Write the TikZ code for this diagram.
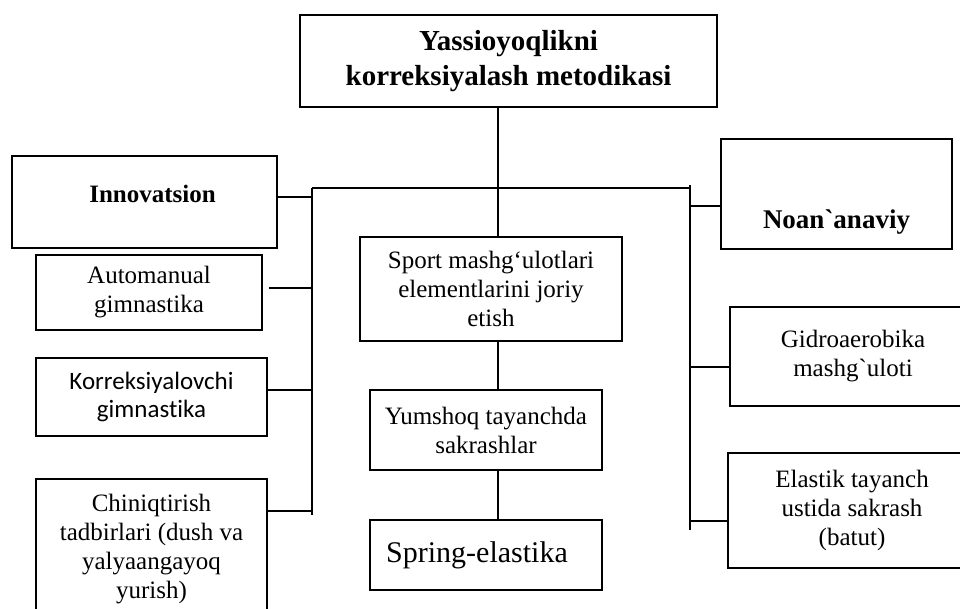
\documentclass[tikz,border=0pt]{standalone}
\usepackage{fontspec}
\setmainfont{Liberation Serif}[Ligatures=TeXOff]
\newfontfamily\calibrifont{Carlito}[Ligatures={TeXOff,NoCommon}]
\usetikzlibrary{calc}

\begin{document}
\begin{tikzpicture}[
    x=1pt, y=-1pt,
    box/.style={draw, line width=2pt, inner sep=0pt, align=center,
                font=\fontsize{25}{29}\selectfont},
    head/.style={box, font=\fontsize{25}{30}\selectfont\bfseries},
    link/.style={line width=2pt}
]
\useasboundingbox (0,0) rectangle (960,608);

% Top box
\node[head, minimum width=417pt, minimum height=92pt,
      font=\fontsize{29}{35}\selectfont\bfseries] (title) at (508.5,61)
    {Yassioyoqlikni\\ korreksiyalash metodikasi};

% Left branch
\node[head, minimum width=265pt, minimum height=92pt,
      text height=10pt, text depth=10pt] (innov) at (144.5,202)
    {\hspace*{16pt}Innovatsion};
\node[box, minimum width=226pt, minimum height=75pt] (auto) at (149,292.5)
    {Automanual\\ gimnastika};
\node[box, minimum width=231pt, minimum height=78pt,
      font=\calibrifont\fontsize{25}{28}\selectfont] (korr) at (151.5,397)
    {Korreksiyalovchi\\ gimnastika};
\node[box, minimum width=231pt, minimum height=141pt] (chin) at (151.5,549.5)
    {Chiniqtirish\\ tadbirlari (dush va\\ yalyaangayoq\\ yurish)};

% Middle branch
\node[box, minimum width=262pt, minimum height=104pt] (sport) at (491,289)
    {Sport mashg‘ulotlari\\ elementlarini joriy\\ etish};
\node[box, minimum width=232pt, minimum height=80pt] (yumsh) at (486,430)
    {Yumshoq tayanchda\\ sakrashlar};
\node[box, minimum width=232pt, minimum height=70pt,
      font=\fontsize{30}{34}\selectfont] (spring) at (486,555)
    {Spring-elastika\hspace*{18pt}};

% Right branch
\node[head, minimum width=231pt, minimum height=110pt,
      font=\fontsize{27}{32}\selectfont\bfseries,
      text height=72pt, text depth=4pt] (noan) at (836.5,194)
    {Noan`anaviy};
\node[box, minimum width=246pt, minimum height=99pt] (gidro) at (853,356.5)
    {Gidroaerobika\\ mashg`uloti};
\node[box, minimum width=248pt, minimum height=115pt] (elast) at (852,510.5)
    {Elastik tayanch\\ ustida sakrash\\ (batut)};

% Bus lines
\coordinate (busL) at (312,188);
\coordinate (busR) at (690,188);
\coordinate (trunk) at (498,188);
\coordinate (endL) at (312,515);
\coordinate (endR) at (690,530);
\draw[link] (title.south -| trunk) -- (sport.north -| trunk);
\draw[link] (busL) -- (busR);
\draw[link] (busL) -- (endL);
\draw[link] ([yshift=3pt]busR) -- (endR);

% Stubs
\draw[link] ([yshift=5pt]innov.east) -- ([yshift=5pt]innov.east -| busL);
\draw[link] ([xshift=6pt,yshift=5pt]auto.east) -- ([yshift=5pt]auto.east -| busL);
\draw[link] ([yshift=7pt]korr.east) -- ([yshift=7pt]korr.east -| busL);
\draw[link] ([yshift=-33pt]chin.north east) -- ([yshift=-33pt]chin.north east -| busL);
\draw[link] ([yshift=-12pt]noan.west) -- ([yshift=-12pt]noan.west -| busR);
\draw[link] ([yshift=-10.5pt]gidro.west) -- ([yshift=-10.5pt]gidro.west -| busR);
\draw[link] ([yshift=-10.5pt]elast.west) -- ([yshift=-10.5pt]elast.west -| busR);

% Middle chain
\draw[link] (sport.south -| trunk) -- (yumsh.north -| trunk);
\draw[link] (yumsh.south -| trunk) -- (spring.north -| trunk);
\end{tikzpicture}
\end{document}
